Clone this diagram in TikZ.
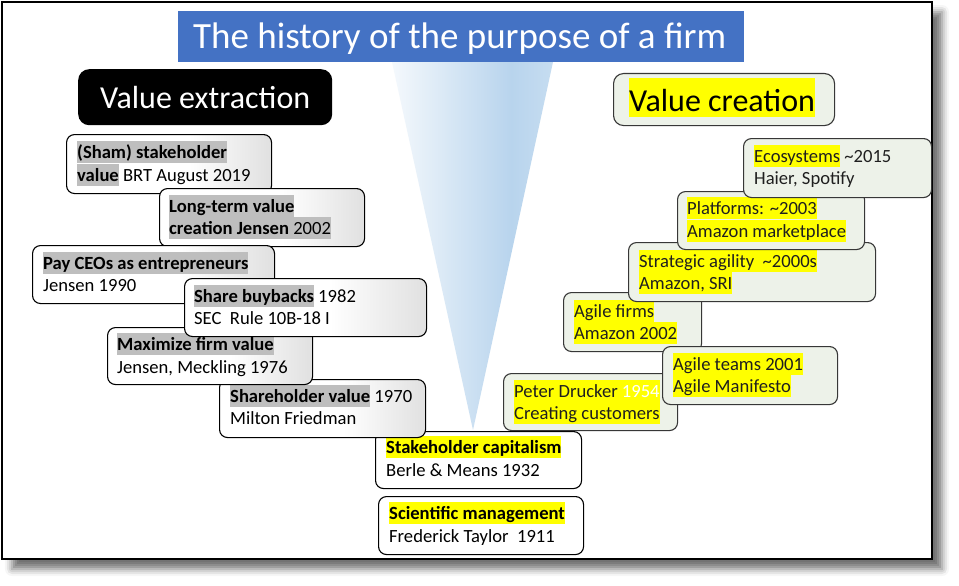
\documentclass[tikz,border=0pt]{standalone}
\usepackage{fontspec}
\setmainfont{Carlito}
\usetikzlibrary{shadows.blur}
\definecolor{titleblue}{RGB}{68,114,196}
\definecolor{hlgray}{RGB}{190,190,190}
\definecolor{hlyel}{RGB}{255,255,0}
\definecolor{rbfill}{RGB}{237,242,233}
\definecolor{rbdraw}{RGB}{55,55,55}
\definecolor{coneb}{RGB}{184,212,237}
\pgfdeclarehorizontalshading{lboxshade}{100bp}{color(0bp)=(white); color(25bp)=(white); color(55bp)=(white); color(75bp)=(black!12); color(100bp)=(black!12)}
\pgfdeclarehorizontalshading{coneshade}{100bp}{color(0bp)=(white); color(25bp)=(white!85!coneb); color(62bp)=(coneb); color(75bp)=(coneb!80!white); color(100bp)=(coneb!80!white)}
\newcommand{\hlg}[1]{{\setlength{\fboxsep}{0pt}\colorbox{hlgray}{\rule[-4.5pt]{0pt}{22pt}#1}}}
\newcommand{\hly}[1]{{\setlength{\fboxsep}{0pt}\colorbox{hlyel}{\rule[-4.5pt]{0pt}{22pt}#1}}}
\newcommand{\hlybig}[1]{{\setlength{\fboxsep}{0pt}\colorbox{hlyel}{\rule[-6pt]{0pt}{39pt}#1}}}
\tikzset{
  lbox/.style={draw=black, line width=1.1pt, rounded corners=8pt, shade, shading=lboxshade, anchor=north west, inner sep=0pt},
  wbox/.style={draw=black, line width=1.1pt, rounded corners=8pt, fill=white, anchor=north west, inner sep=0pt},
  rbox/.style={draw=rbdraw, line width=1.1pt, rounded corners=8pt, fill=rbfill, anchor=north west, inner sep=0pt},
  txt/.style={anchor=base west, inner sep=0pt, font=\fontsize{18.6}{22}\selectfont},
  rtxt/.style={txt, text=black!88},
}
\begin{document}
\begin{tikzpicture}[x=1pt,y=-1pt]
\useasboundingbox (0,0) rectangle (959,586);
% frame with shadow
\draw[line width=1.5pt, fill=white, blur shadow={shadow xshift=10pt, shadow yshift=-10pt, shadow blur radius=7pt, shadow opacity=55}] (2,2) rectangle (932,559);
% cone
\shade[shading=coneshade] (392,62) -- (553,62) -- (473,430) -- cycle;
% title
\node[fill=titleblue, anchor=north west, minimum width=566pt, minimum height=51pt, inner sep=0pt] (titlebox) at (178,11) {};
\node[anchor=base west, inner sep=0pt, text=white, font=\fontsize{37}{40}\selectfont] (title) at (193,49) {The history of the purpose of a firm};
% value extraction
\node[fill=black, rounded corners=11pt, anchor=north west, minimum width=254pt, minimum height=56pt, inner sep=0pt] (vebox) at (78,69) {};
\node[anchor=base west, inner sep=0pt, text=white, font=\fontsize{32}{36}\selectfont] (vetext) at (100,109) {Value extraction};
% value creation
\node[rbox, rounded corners=10pt, minimum width=221pt, minimum height=52pt] (vcbox) at (613,73) {};
\node[anchor=base west, inner sep=0pt, text=black, font=\fontsize{32}{36}\selectfont] (vctext) at (629,111) {\hlybig{Value creation}};
% left boxes
\node[wbox, minimum width=205pt, minimum height=58pt] (b8) at (378,496) {};
\node[txt] (b8a) at (389,519) {\hly{\textbf{Scientific management}}};
\node[txt] (b8b) at (389,542) {Frederick Taylor\ \ 1911};
\node[wbox, minimum width=206pt, minimum height=57pt] (b7) at (375,431) {};
\node[txt] (b7a) at (386,453) {\hly{\textbf{Stakeholder capitalism}}};
\node[txt] (b7b) at (386,476) {Berle \& Means 1932};
\node[lbox, minimum width=206pt, minimum height=58pt] (b6) at (219,379) {};
\node[txt] (b6a) at (230,402) {\hlg{\textbf{Shareholder value}} 1970};
\node[txt] (b6b) at (230,424) {Milton Friedman};
\node[lbox, minimum width=205pt, minimum height=57pt] (b5) at (107,327) {};
\node[txt] (b5a) at (117,350) {\hlg{\textbf{Maximize firm value}}};
\node[txt] (b5b) at (117,373) {Jensen, Meckling 1976};
\node[lbox, minimum width=205pt, minimum height=59pt] (b1) at (66,134) {};
\node[txt] (b1a) at (77,158) {\hlg{\textbf{(Sham) stakeholder}}};
\node[txt] (b1b) at (77,181) {\hlg{\textbf{value}} BRT August 2019};
\node[lbox, minimum width=205pt, minimum height=58pt] (b2) at (159,188) {};
\node[txt] (b2a) at (169,212) {\hlg{\textbf{Long-term value}}};
\node[txt] (b2b) at (169,234) {\hlg{\textbf{creation Jensen} 2002}};
\node[lbox, minimum width=242pt, minimum height=58pt] (b3) at (32,245) {};
\node[txt] (b3a) at (43,269) {\hlg{\textbf{Pay CEOs as entrepreneurs}}};
\node[txt] (b3b) at (43,291) {Jensen 1990};
\node[lbox, minimum width=242pt, minimum height=58pt] (b4) at (184,278) {};
\node[txt] (b4a) at (194,302) {\hlg{\textbf{Share buybacks}} 1982};
\node[txt] (b4b) at (194,324) {SEC\ \ Rule 10B-18 I};
% right boxes
\node[rbox, minimum width=174pt, minimum height=57pt] (pd) at (503,373) {};
\node[rtxt] (pda) at (514,397) {\hly{Peter Drucker \textcolor{white}{1954}}};
\node[rtxt] (pdb) at (514,419) {\hly{Creating customers}};
\node[rbox, minimum width=138pt, minimum height=59pt] (af) at (563,292) {};
\node[rtxt] (afa) at (574,317) {\hly{Agile firms}};
\node[rtxt] (afb) at (574,339) {\hly{Amazon 2002}};
\node[rbox, minimum width=175pt, minimum height=58pt] (at) at (662,346) {};
\node[rtxt] (ata) at (673,370) {\hly{Agile teams 2001}};
\node[rtxt] (atb) at (673,392) {\hly{Agile Manifesto}};
\node[rbox, minimum width=247pt, minimum height=59pt] (sa) at (628,242) {};
\node[rtxt] (saa) at (639,267) {\hly{Strategic agility\ \ \textasciitilde2000s}};
\node[rtxt] (sab) at (639,289) {\hly{Amazon, SRI}};
\node[rbox, minimum width=187pt, minimum height=58pt] (pl) at (677,191) {};
\node[rtxt] (pla) at (687,214) {\hly{Platforms: \textasciitilde2003}};
\node[rtxt] (plb) at (687,237) {\hly{Amazon marketplace}};
\node[rbox, minimum width=188pt, minimum height=59pt] (ec) at (743,138) {};
\node[rtxt] (eca) at (754,162) {\hly{Ecosystems} \textasciitilde2015};
\node[rtxt] (ecb) at (754,184) {Haier, Spotify};
\end{tikzpicture}
\end{document}
